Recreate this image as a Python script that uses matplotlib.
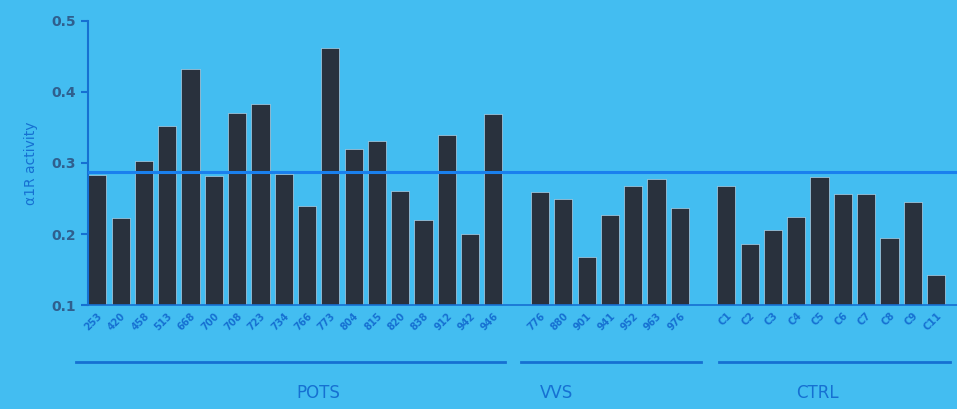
import matplotlib.pyplot as plt
import matplotlib.transforms as mtransforms

pots_ids = ["253", "420", "458", "513", "668", "700", "708", "723", "734",
            "766", "773", "804", "815", "820", "838", "912", "942", "946"]
pots_vals = [0.283, 0.222, 0.303, 0.352, 0.432, 0.282, 0.370, 0.383, 0.285,
             0.239, 0.462, 0.320, 0.331, 0.261, 0.220, 0.339, 0.200, 0.369]
vvs_ids = ["776", "880", "901", "941", "952", "963", "976"]
vvs_vals = [0.259, 0.249, 0.168, 0.227, 0.268, 0.277, 0.237]
ctrl_ids = ["C1", "C2", "C3", "C4", "C5", "C6", "C7", "C8", "C9", "C11"]
ctrl_vals = [0.268, 0.186, 0.206, 0.224, 0.280, 0.256, 0.256, 0.194, 0.245, 0.142]
cutoff = 0.288

bg = "#43bdf1"
bar_col = "#29313d"
blue = "#1670d2"

pots_x = list(range(0, 18))
vvs_x = list(range(19, 26))
ctrl_x = list(range(27, 37))

fig = plt.figure(figsize=(9.57, 4.09), dpi=100, facecolor=bg)
ax = fig.add_axes([0.092, 0.254, 0.908, 0.695])
ax.set_facecolor(bg)

for xs, vals in [(pots_x, pots_vals), (vvs_x, vvs_vals), (ctrl_x, ctrl_vals)]:
    ax.bar(xs, [v - 0.1 for v in vals], bottom=0.1, width=0.78,
           color=bar_col, edgecolor="#cfe9fb", linewidth=0.4)

ax.axhline(cutoff, color="#1a80ee", linewidth=2.2, zorder=3)

ax.set_xlim(-0.4, 36.9)
ax.set_ylim(0.1, 0.5)
ax.set_yticks([0.1, 0.2, 0.3, 0.4, 0.5])
ax.set_yticklabels(["0.1", "0.2", "0.3", "0.4", "0.5"],
                   fontsize=10, fontweight="bold", color="#2f5f8e")
ax.tick_params(axis="y", colors=blue, length=5, width=1.5, labelcolor="#2f5f8e")
ax.set_ylabel("α1R activity", color=blue, fontsize=10, fontweight="medium",
              labelpad=10)

ax.set_xticks(pots_x + vvs_x + ctrl_x)
ax.set_xticklabels(pots_ids + vvs_ids + ctrl_ids, rotation=45, ha="right",
                   rotation_mode="anchor", fontsize=7, fontweight="bold",
                   color=blue)
ax.tick_params(axis="x", length=0, pad=4)

for s in ["top", "right"]:
    ax.spines[s].set_visible(False)
ax.spines["left"].set_color(blue)
ax.spines["left"].set_linewidth(1.5)
ax.spines["bottom"].set_color(blue)
ax.spines["bottom"].set_linewidth(1.2)

trans = mtransforms.blended_transform_factory(ax.transData, ax.transAxes)
groups = [("POTS", -0.9, 17.5, 9.5), ("VVS", 18.2, 25.9, 19.7),
          ("CTRL", 26.7, 36.6, 30.9)]
for name, x0, x1, xl in groups:
    ax.plot([x0, x1], [-0.2, -0.2], transform=trans, color=blue,
            linewidth=2, clip_on=False)
    ax.text(xl, -0.31, name, transform=trans, ha="center", va="center",
            fontsize=12, fontweight="medium", color=blue)

fig.savefig("out.png", dpi=100, facecolor=bg)
